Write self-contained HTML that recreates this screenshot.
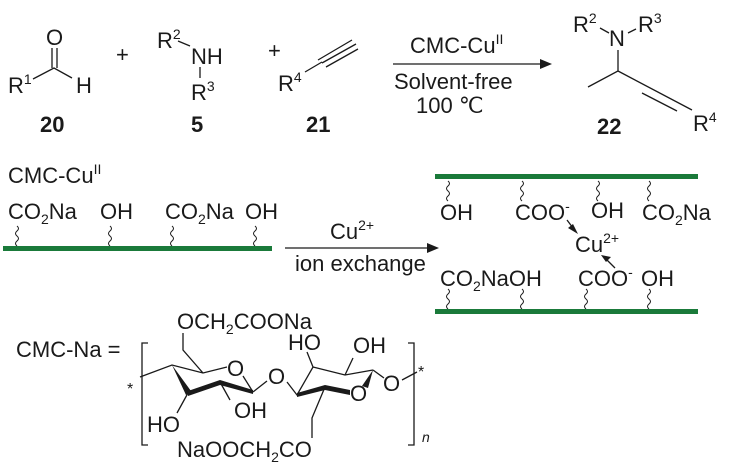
<!DOCTYPE html>
<html><head><meta charset="utf-8"><style>
html,body{margin:0;padding:0;background:#fff}
svg{display:block}
text{font-family:"Liberation Sans",Arial,sans-serif;fill:#1a1a1a;font-size:22px}
.b{font-weight:bold}
.s{font-size:14px}
</style></head><body>
<svg width="735" height="472" viewBox="0 0 735 472" xmlns="http://www.w3.org/2000/svg">
<g stroke="#1a1a1a" stroke-width="1.3" fill="none">
<!-- aldehyde -->
<path d="M33 79 L54 68 L72 78"/>
<path d="M52 48 L52 68 M57 48 L57 68"/>
<!-- amine -->
<path d="M178 41 L190 46 M200 67 L200 78"/>
<!-- alkyne -->
<path d="M305 72 L322 62 M318 60 L352 40 M322 63 L356 44 M326 67 L358 49"/>
<!-- main arrow -->
<path d="M393 64 L540 64"/>
<!-- product -->
<path d="M600 28 L609 33 M628 33 L636 29 M618 50 L618 71 L588 87 M618 71 L692 110 M642 93 L677 111"/>
<!-- squiggles -->
<g stroke-width="1">
<path d="M17 226 q3 2.5 0 5 q-3 2.5 0 5 q3 2.5 0 5 q-3 2.5 0 5"/>
<path d="M110 226 q3 2.5 0 5 q-3 2.5 0 5 q3 2.5 0 5 q-3 2.5 0 5"/>
<path d="M172 226 q3 2.5 0 5 q-3 2.5 0 5 q3 2.5 0 5 q-3 2.5 0 5"/>
<path d="M255 226 q3 2.5 0 5 q-3 2.5 0 5 q3 2.5 0 5 q-3 2.5 0 5"/>
<path d="M448 181 q3 2.5 0 5 q-3 2.5 0 5 q3 2.5 0 5 q-3 2.5 0 5"/>
<path d="M522 181 q3 2.5 0 5 q-3 2.5 0 5 q3 2.5 0 5 q-3 2.5 0 5"/>
<path d="M598 181 q3 2.5 0 5 q-3 2.5 0 5 q3 2.5 0 5 q-3 2.5 0 5"/>
<path d="M649 181 q3 2.5 0 5 q-3 2.5 0 5 q3 2.5 0 5 q-3 2.5 0 5"/>
<path d="M448 289 q3 2.5 0 5 q-3 2.5 0 5 q3 2.5 0 5 q-3 2.5 0 5"/>
<path d="M522 289 q3 2.5 0 5 q-3 2.5 0 5 q3 2.5 0 5 q-3 2.5 0 5"/>
<path d="M586 289 q3 2.5 0 5 q-3 2.5 0 5 q3 2.5 0 5 q-3 2.5 0 5"/>
<path d="M649 289 q3 2.5 0 5 q-3 2.5 0 5 q3 2.5 0 5 q-3 2.5 0 5"/>
</g>
<path d="M285 248 L427 248"/>
<path d="M567 220 L573 228 M615 268 L607 260"/>
<!-- sugar -->
<path d="M140 377 L172 365 L203 373 L227 367 M243 376 L253 392 M203 373 L183 350 L183 333"/>
<path d="M188 393 L177 413 M220 382 L230 400"/>
<path d="M253 392 L267 381 M287 382 L297 395 L313 367 L345 375 L373 370 M313 367 L307 352 M345 375 L353 358"/>
<path d="M373 370 L384 378 M402 380 L417 372 M325 387 L312 418 L312 438"/>
<path d="M148 343 L142 343 L142 445 L148 445 M408 343 L414 343 L414 445 L408 445"/>
</g>
<g fill="#1a1a1a">
<path d="M540 59 L552 64 L540 69Z"/>
<path d="M427 243 L439 248 L427 253Z"/>
<path d="M578 234 L568 228 L573 224Z"/>
<path d="M601 255 L611 257 L606 262Z"/>
<!-- thick ring bonds -->
<path d="M172 365 L186 395 L191 391Z"/>
<path d="M188 391 L220 380 L220 385 L188 396Z"/>
<path d="M220 380 L253 390 L253 394 L220 385Z"/>
<path d="M297 393 L325 385 L325 390 L297 397Z"/>
<path d="M325 385 L350 390 L350 395 L325 390Z"/>
<path d="M373 370 L362 386 L368 388Z"/>
</g>
<g fill="#1a7a3a">
<rect x="3" y="246" width="269" height="5"/>
<rect x="435" y="174" width="263" height="5"/>
<rect x="435" y="309" width="263" height="5"/>
</g>
<!-- top text -->
<text x="8" y="93">R<tspan class="s" dy="-9">1</tspan></text>
<text x="46" y="45">O</text>
<text x="76" y="93">H</text>
<text x="116" y="62">+</text>
<text x="157" y="48">R<tspan class="s" dy="-9">2</tspan></text>
<text x="191" y="64">NH</text>
<text x="191" y="100">R<tspan class="s" dy="-9">3</tspan></text>
<text x="268" y="58">+</text>
<text x="278" y="91">R<tspan class="s" dy="-9">4</tspan></text>
<text class="b" x="40" y="132">20</text>
<text class="b" x="191" y="132">5</text>
<text class="b" x="306" y="132">21</text>
<text x="410" y="53">CMC-Cu<tspan class="s" dy="-9">II</tspan></text>
<text x="394" y="89">Solvent-free</text>
<text x="416" y="113">100 ℃</text>
<text x="573" y="32">R<tspan class="s" dy="-9">2</tspan></text>
<text x="609" y="46">N</text>
<text x="638" y="32">R<tspan class="s" dy="-9">3</tspan></text>
<text x="693" y="131">R<tspan class="s" dy="-9">4</tspan></text>
<text class="b" x="597" y="134">22</text>
<!-- middle -->
<text x="8" y="183">CMC-Cu<tspan class="s" dy="-9">II</tspan></text>
<text x="8" y="219">CO<tspan class="s" dy="5">2</tspan><tspan dy="-5">Na</tspan></text>
<text x="100" y="219">OH</text>
<text x="165" y="219">CO<tspan class="s" dy="5">2</tspan><tspan dy="-5">Na</tspan></text>
<text x="245" y="219">OH</text>
<text x="330" y="239">Cu<tspan class="s" dy="-9">2+</tspan></text>
<text x="295" y="271">ion exchange</text>
<text x="440" y="220">OH</text>
<text x="515" y="220">COO<tspan class="s" dy="-9">-</tspan></text>
<text x="591" y="218">OH</text>
<text x="642" y="220">CO<tspan class="s" dy="5">2</tspan><tspan dy="-5">Na</tspan></text>
<text x="575" y="252">Cu<tspan class="s" dy="-9">2+</tspan></text>
<text x="440" y="286">CO<tspan class="s" dy="5">2</tspan><tspan dy="-5">NaOH</tspan></text>
<text x="578" y="286">COO<tspan class="s" dy="-9">-</tspan></text>
<text x="641" y="286">OH</text>
<!-- CMC-Na -->
<text x="16" y="357">CMC-Na =</text>
<text x="177" y="329">OCH<tspan class="s" dy="5">2</tspan><tspan dy="-5">COONa</tspan></text>
<text x="288" y="350">HO</text>
<text x="353" y="353">OH</text>
<text x="227" y="376">O</text>
<text x="268" y="384">O</text>
<text x="350" y="401">O</text>
<text x="383" y="391">O</text>
<text x="147" y="432">HO</text>
<text x="234" y="418">OH</text>
<text x="177" y="457">NaOOCH<tspan class="s" dy="5">2</tspan><tspan dy="-5">CO</tspan></text>
<text x="127" y="394" style="font-size:16px">*</text>
<text x="418" y="377" style="font-size:16px">*</text>
<text x="422" y="442" style="font-size:14px;font-style:italic">n</text>
</svg>
</body></html>
